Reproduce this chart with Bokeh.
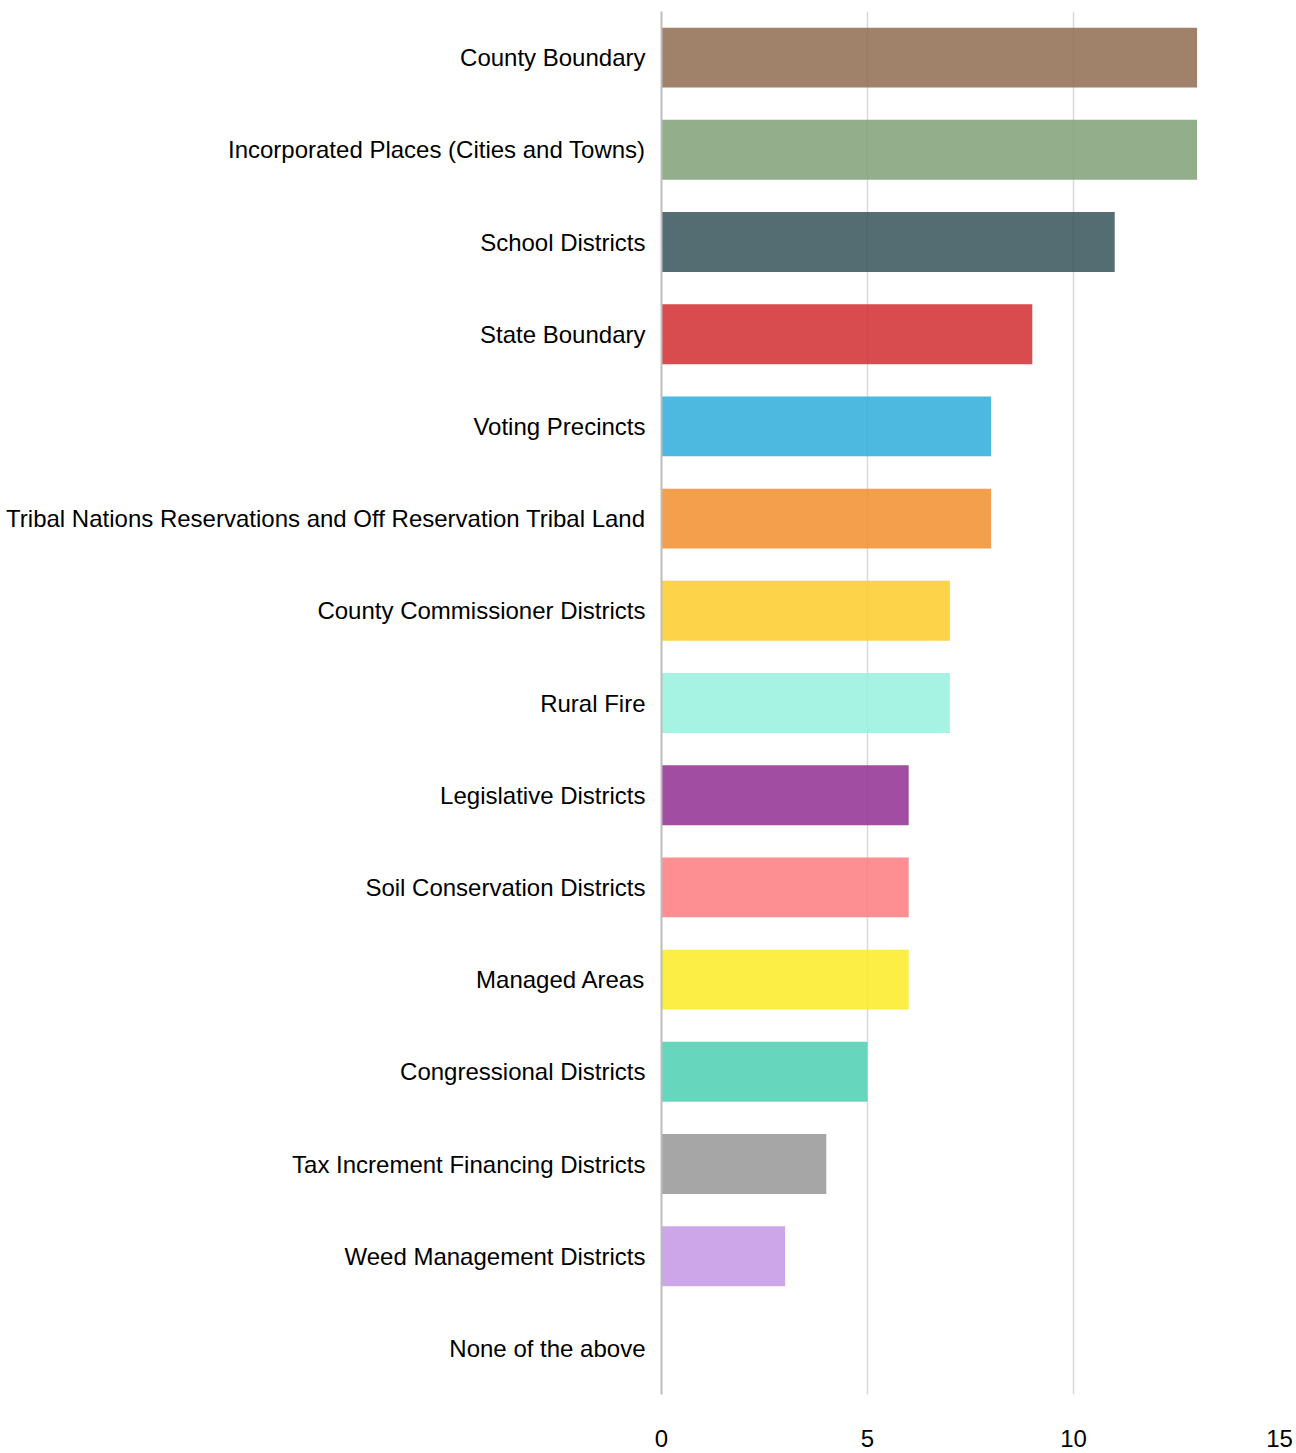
from bokeh.plotting import figure
from bokeh.models import FactorRange, Range1d, ColumnDataSource, FixedTicker
from bokeh.embed import file_html
from bokeh.resources import INLINE

categories = [
    "County Boundary",
    "Incorporated Places (Cities and Towns)",
    "School Districts",
    "State Boundary",
    "Voting Precincts",
    "Tribal Nations Reservations and Off Reservation Tribal Land",
    "County Commissioner Districts",
    "Rural Fire",
    "Legislative Districts",
    "Soil Conservation Districts",
    "Managed Areas",
    "Congressional Districts",
    "Tax Increment Financing Districts",
    "Weed Management Districts",
    "None of the above",
]
counts = [13, 13, 11, 9, 8, 8, 7, 7, 6, 6, 6, 5, 4, 3, 0]
shown_colors = [
    "#a0826a", "#93ae8a", "#546e73", "#d84b4e", "#4db8e0",
    "#f49f4c", "#fdd34a", "#a7f3e4", "#a14da1", "#fd8f93",
    "#fcee45", "#66d7bd", "#a6a6a6", "#cca6e8", "#cccccc",
]
x_ticks = [0, 5, 10, 15]

ALPHA = 0.85


def base_color(h):
    h = h.lstrip("#")
    out = []
    for i in (0, 2, 4):
        d = int(h[i:i + 2], 16)
        c = (d - (1 - ALPHA) * 255) / ALPHA
        out.append(max(0, min(255, int(round(c)))))
    return "#%02x%02x%02x" % tuple(out)


colors = [base_color(c) for c in shown_colors]

source = ColumnDataSource(dict(cat=categories, val=counts, color=colors))

FONT = "Liberation Sans"
FSIZE = "24px"

p = figure(
    width=1296, height=1453,
    y_range=FactorRange(factors=list(reversed(categories)), range_padding=0),
    x_range=Range1d(0, 15),
    output_backend="svg", toolbar_location=None,
    min_border_left=661, min_border_right=17, min_border_top=11, min_border_bottom=59,
)
p.hbar(y="cat", right="val", left=0, height=0.65, source=source,
       fill_color="color", fill_alpha=ALPHA, line_color=None)

p.outline_line_color = None
p.ygrid.grid_line_color = None
p.xgrid.grid_line_color = "#d9d9d9"
p.xgrid.grid_line_width = 1.5
p.xaxis.ticker = FixedTicker(ticks=x_ticks)

p.xaxis.axis_line_color = None
p.xaxis.major_tick_line_color = None
p.xaxis.minor_tick_line_color = None
p.xaxis.major_label_standoff = 29
p.xaxis.major_label_text_font = FONT
p.xaxis.major_label_text_font_size = FSIZE
p.xaxis.major_label_text_color = "#000000"

p.yaxis.axis_line_color = "#bdbdbd"
p.yaxis.axis_line_width = 2
p.yaxis.major_tick_line_color = None
p.yaxis.minor_tick_line_color = None
p.yaxis.major_label_standoff = 10
p.yaxis.major_label_text_font = FONT
p.yaxis.major_label_text_font_size = FSIZE
p.yaxis.major_label_text_color = "#000000"

open("out.html", "w").write(file_html(p, INLINE))
